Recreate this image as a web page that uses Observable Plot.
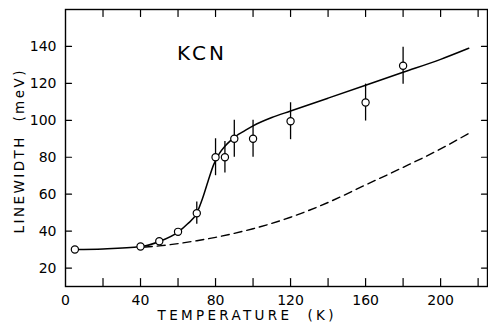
<!DOCTYPE html>
<html>
<head>
<meta charset="utf-8">
<script src="https://cdn.jsdelivr.net/npm/d3@7"></script>
<script src="https://cdn.jsdelivr.net/npm/@observablehq/plot@0.6"></script>
<style>
  html, body { margin: 0; padding: 0; background: #fff; }
</style>
</head>
<body>
<div id="chart"></div>
<script>
// Measured data points (temperature K, linewidth meV, error bar half-length)
const temps  = [5, 40, 50, 60, 70, 80, 85, 90, 100, 120, 160, 180];
const widths = [30, 31.7, 34.5, 39.6, 49.7, 80, 80, 90, 90, 99.5, 109.6, 129.5];
const errs   = [0, 0, 0, 0, 6, 10, 8.5, 10, 10, 10, 10, 10];

// Solid fitted curve
const fitT = [5, 20, 40, 50, 60, 65, 70, 73, 76, 79, 82, 85, 88, 91, 95, 100, 110, 120, 140, 160, 180, 200, 215];
const fitW = [30, 30.3, 31.6, 34.4, 39.5, 43.8, 49.7, 57.5, 67, 76, 82, 86, 89, 91.5, 94, 97, 101.5, 105, 112, 119, 126, 133, 139];

// Dashed curve
const dashT = [42, 50, 60, 70, 80, 90, 100, 120, 140, 160, 180, 200, 216];
const dashW = [31.3, 32, 33.2, 34.8, 36.6, 38.8, 41.3, 47.5, 55.5, 65, 74.5, 84.5, 93.5];

// Axis ticks and labels
const xTickMarks = [20, 40, 60, 80, 100, 120, 140, 160, 180, 200, 220];
const xTickLabels = [0, 40, 80, 120, 160, 200];
const yTicks = [20, 40, 60, 80, 100, 120, 140];
const xLabel = "TEMPERATURE  (K)";
const yLabel = "LINEWIDTH  (meV)";
const annotation = [{text: "KCN", T: 72, W: 136}];

const points = temps.map((t, i) => ({T: t, W: widths[i], E: errs[i]}));
const fit = fitT.map((t, i) => ({T: t, W: fitW[i]}));
const dash = dashT.map((t, i) => ({T: t, W: dashW[i]}));

const tickShape = {
  draw(context, l) { context.moveTo(0, 0); context.lineTo(0, -l); }
};

const chart = Plot.plot({
  width: 488,
  height: 323,
  marginLeft: 65,
  marginRight: 1,
  marginTop: 9,
  marginBottom: 37,
  style: {fontFamily: "'DejaVu Sans', sans-serif", fontSize: "14px", color: "black", background: "white"},
  x: {domain: [0, 225], label: null},
  y: {domain: [10, 160], label: null},
  marks: [
    Plot.frame({stroke: "black", strokeWidth: 1.4}),
    Plot.axisX({ticks: xTickLabels, tickSize: 0, tickPadding: 9, label: null, fontSize: 14}),
    Plot.axisY({ticks: yTicks, tickSize: 0, tickPadding: 9, label: null, fontSize: 14}),
    Plot.vector(xTickMarks, {x: d => d, frameAnchor: "bottom", rotate: 0, length: 8, anchor: "start", shape: tickShape, stroke: "black", strokeWidth: 1.2}),
    Plot.vector(xTickMarks, {x: d => d, frameAnchor: "top", rotate: 180, length: 7, anchor: "start", shape: tickShape, stroke: "black", strokeWidth: 1.2}),
    Plot.vector(yTicks, {y: d => d, frameAnchor: "left", rotate: 90, length: 6, anchor: "start", shape: tickShape, stroke: "black", strokeWidth: 1.2}),
    Plot.vector(yTicks, {y: d => d, frameAnchor: "right", rotate: -90, length: 6, anchor: "start", shape: tickShape, stroke: "black", strokeWidth: 1.2}),
    Plot.line(dash, {x: "T", y: "W", curve: "monotone-x", stroke: "black", strokeWidth: 1.4, strokeDasharray: "8,5"}),
    Plot.line(fit, {x: "T", y: "W", curve: "monotone-x", stroke: "black", strokeWidth: 1.5}),
    Plot.ruleX(points.filter(d => d.E > 0), {x: "T", y1: d => d.W - d.E, y2: d => d.W + d.E, stroke: "black", strokeWidth: 1.3}),
    Plot.dot(points, {x: "T", y: "W", r: 3.6, fill: "white", stroke: "black", strokeWidth: 1.2}),
    Plot.text(annotation, {x: "T", y: "W", text: "text", fontSize: 20, ariaDescription: "kcn"}),
    Plot.text([xLabel], {x: 96, frameAnchor: "bottom", textAnchor: "middle", lineAnchor: "middle", dy: 29, text: d => d, fontSize: 13.5, ariaDescription: "xlabel"}),
    Plot.text([yLabel], {frameAnchor: "left", textAnchor: "middle", lineAnchor: "middle", dx: -46, dy: 4, rotate: -90, text: d => d, fontSize: 13.5, ariaDescription: "ylabel"})
  ]
});

const svg = d3.select(chart);
svg.selectAll('g[aria-description="xlabel"] text').attr("textLength", 176).attr("lengthAdjust", "spacing");
svg.selectAll('g[aria-description="ylabel"] text').attr("textLength", 163).attr("lengthAdjust", "spacing");
svg.selectAll('g[aria-description="kcn"] text').attr("textLength", 47).attr("lengthAdjust", "spacing");
document.getElementById("chart").appendChild(chart);
</script>
</body>
</html>
